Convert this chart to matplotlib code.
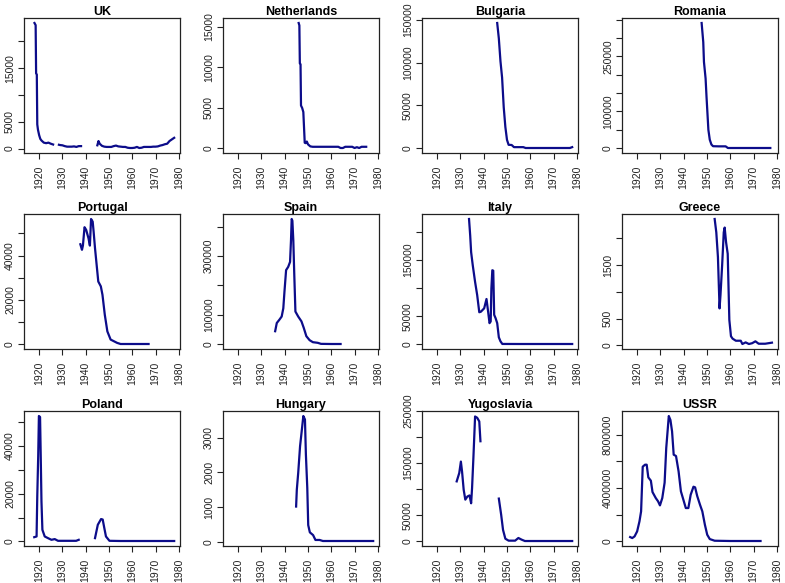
import numpy as np
import matplotlib.pyplot as plt

nan = np.nan

titles = ['UK', 'Netherlands', 'Bulgaria', 'Romania',
          'Portugal', 'Spain', 'Italy', 'Greece',
          'Poland', 'Hungary', 'Yugoslavia', 'USSR']

uk_year = [1918.0, 1918.5, 1918.7, 1919.0, 1919.2, 1919.5, 1920, 1920.5, 1921, 1922, 1923, 1924, 1925, 1926,
           1927, 1928.5, 1929, 1930, 1931, 1932, 1933, 1934, 1935, 1936, 1937, 1938,
           1941, 1945, 1945.5, 1946, 1947, 1948, 1949, 1950, 1951, 1952, 1953, 1954, 1955, 1956, 1957,
           1958, 1959, 1960, 1961, 1962, 1963, 1964, 1965, 1966, 1967, 1968, 1969, 1970, 1971, 1972,
           1973, 1974, 1975, 1976, 1977, 1978]
uk_val = [23400, 23000, 14000, 13800, 4500, 3500, 2500, 1800, 1500, 1100, 1000, 1100, 900, 750,
          nan, 700, 650, 600, 450, 350, 350, 350, 400, 300, 450, 450,
          nan, 600, 1400, 900, 500, 350, 300, 300, 300, 450, 550, 400, 350, 300, 300,
          150, 100, 100, 150, 300, 100, 150, 300, 300, 300, 300, 350, 350, 400, 550,
          650, 800, 900, 1400, 1700, 2000]

nl_year = [1946.0, 1946.3, 1946.5, 1946.8, 1947.0, 1947.5, 1948.0, 1948.3, 1948.6, 1949.0, 1949.5, 1950,
           1951, 1952, 1955, 1958, 1961, 1963, 1964, 1965, 1966, 1967, 1968, 1969, 1970, 1971,
           1972, 1973, 1974, 1975]
nl_val = [15500, 15200, 10500, 10400, 5300, 5000, 4500, 2600, 700, 650, 850, 500,
          250, 200, 200, 200, 200, 200, 50, 50, 200, 200, 200, 200, 50, 150,
          50, 200, 200, 200]

bg_year = [1945.8, 1946.5, 1947.2, 1947.9, 1948.6, 1949.3, 1950.0, 1950.7, 1952, 1953, 1955, 1957,
           1958, 1962, 1966, 1970, 1974, 1977, 1978]
bg_val = [146000, 128000, 101500, 82400, 48000, 25000, 10000, 4200, 4000, 1500, 1500, 1500,
          500, 500, 500, 500, 500, 500, 1500]

ro_year = [1947.7, 1948.4, 1948.7, 1949.4, 1949.8, 1950.2, 1950.6, 1951.2, 1951.9, 1952.6, 1955, 1958,
           1959, 1963, 1967, 1971, 1975, 1977.2]
ro_val = [341000, 289000, 235000, 190000, 140000, 95000, 50000, 23000, 10000, 5400, 5000, 5000,
          500, 500, 500, 500, 500, 500]

pt_year = [1937.7, 1938.4, 1938.8, 1939.5, 1940.2, 1941.2, 1941.8, 1942.3, 1943.0, 1943.4, 1944.0,
           1944.7, 1945.4, 1946.5, 1947.2, 1948.2, 1949.3, 1950.7, 1952.1, 1953.5, 1955, 1960, 1967]
pt_val = [45100, 42600, 44500, 52800, 51600, 47800, 44500, 56500, 55300, 50800, 43300,
          35800, 28300, 26100, 22300, 13300, 5800, 2100, 1350, 600, 100, 100, 100]

es_year = [1935.9, 1936.6, 1937.7, 1938.7, 1939.4, 1939.9, 1940.6, 1941.5, 1942.3, 1942.7, 1943.0,
           1943.3, 1943.7, 1944.1, 1944.6, 1945.8, 1947.2, 1948.2, 1949.3, 1950.7, 1952.1, 1954.2,
           1955.6, 1960, 1964]
es_val = [44000, 72000, 83000, 94000, 122000, 179000, 252000, 263000, 280000, 353000, 426000,
          420000, 353000, 240000, 111000, 94000, 77500, 55000, 27000, 13500, 6700, 4500,
          1000, 500, 500]

it_year = [1933.7, 1934.2, 1934.6, 1935.3, 1936.3, 1937.2, 1938.1, 1938.8, 1940.2, 1941.2, 1941.9,
           1942.5, 1943.0, 1943.3, 1943.7, 1944.1, 1944.5, 1945.1, 1945.8, 1946.5, 1947.2, 1948.0,
           1955, 1965, 1978]
it_val = [223000, 193500, 164000, 140600, 111000, 87600, 57000, 58000, 64000, 80600, 58000,
          37600, 40600, 99400, 131800, 131000, 52400, 46500, 37600, 12400, 5300, 600,
          500, 500, 500]

gr_year = [1953.3, 1954.0, 1954.7, 1955.4, 1955.8, 1956.5, 1957.2, 1957.6, 1958.2, 1958.9, 1959.6,
           1960.3, 1961.0, 1962.4, 1964.5, 1965.2, 1966.6, 1968.0, 1969.4, 1970.8, 1972.2, 1975.0,
           1977.9]
gr_val = [2360, 2110, 1650, 690, 940, 1490, 2110, 2200, 1925, 1710, 475,
          170, 125, 86, 86, 25, 55, 25, 40, 75, 30, 30,
          50]

pl_year = [1917.9, 1918.9, 1919.2, 1919.6, 1919.9, 1920.4, 1920.7, 1921.0, 1921.4, 1922.4, 1923.8,
           1925.3, 1926.7, 1928.1, 1932, 1935.9, 1937.0,
           1940, 1944.0, 1945.2, 1946.6, 1947.3, 1948.0, 1948.7, 1950.2, 1955, 1965, 1978]
pl_val = [1800, 2100, 19000, 35800, 52600, 52200, 35000, 16800, 4900, 2100, 1400,
          700, 1000, 280, 280, 280, 700,
          nan, 1400, 7000, 9400, 9200, 5600, 2100, 280, 200, 200, 200]

hu_year = [1944.9, 1945.2, 1945.8, 1946.6, 1947.3, 1948.0, 1948.7, 1949.1, 1949.7, 1950.1, 1950.8,
           1952.2, 1953.2, 1955.0, 1956.4, 1965, 1978]
hu_val = [1015, 1500, 1985, 2760, 3190, 3630, 3530, 2520, 1550, 480, 270,
          190, 50, 50, 20, 20, 20]

yu_year = [1928.4, 1929.5, 1930.2, 1930.7, 1931.4, 1932.1, 1933.0, 1933.9, 1934.6, 1935.0, 1935.6,
           1936.3, 1937.2, 1938.1, 1938.6,
           1942, 1946.5, 1947.5, 1948.3, 1949.3, 1950.7, 1953.5, 1954.9, 1956.3, 1957.7, 1965, 1978]
yu_val = [115000, 131000, 153000, 134000, 99000, 80000, 86000, 88000, 73000, 102000, 163000,
          239500, 237000, 230000, 192000,
          nan, 82000, 51000, 22000, 5000, 1300, 1300, 6400, 3200, 600, 600, 600]

su_year = [1917.0, 1917.9, 1918.9, 1920.0, 1921.0, 1921.7, 1922.4, 1923.4, 1924.1, 1924.8, 1925.9,
           1926.6, 1928.0, 1929.0, 1929.8, 1930.8, 1931.8, 1932.5, 1933.6, 1934.3, 1935.0, 1935.7,
           1936.7, 1937.8, 1938.8, 1939.9, 1940.9, 1942.0, 1943.0, 1944.2, 1944.9, 1945.8, 1947.0,
           1948.0, 1949.1, 1950.1, 1951.2, 1953.3, 1960, 1973]
su_val = [325000, 250000, 375000, 750000, 1.5e6, 2.25e6, 5.6e6, 5.75e6, 5.75e6, 4.8e6, 4.55e6,
          3.7e6, 3.25e6, 3.0e6, 2.7e6, 3.25e6, 4.4e6, 7.0e6, 9.4e6, 9.1e6, 8.25e6, 6.5e6,
          6.4e6, 5.25e6, 3.75e6, 3.1e6, 2.5e6, 2.5e6, 3.5e6, 4.1e6, 4.05e6, 3.4e6, 2.75e6,
          2.25e6, 1.25e6, 500000, 175000, 50000, 30000, 30000]

# y ticks per panel; blank label = dropped by R because of overlap
y_ticks = [[0, 5000, 10000, 15000, 20000],
           [0, 5000, 10000, 15000],
           [0, 50000, 100000, 150000],
           [0, 50000, 100000, 150000, 200000, 250000, 300000, 350000],
           [0, 10000, 20000, 30000, 40000, 50000],
           [0, 100000, 200000, 300000, 400000],
           [0, 50000, 100000, 150000, 200000],
           [0, 500, 1000, 1500, 2000],
           [0, 10000, 20000, 30000, 40000, 50000],
           [0, 1000, 2000, 3000],
           [0, 50000, 100000, 150000, 200000, 250000],
           [0, 2000000, 4000000, 6000000, 8000000]]
y_labels = [['0', '5000', '', '15000', ''],
            ['0', '5000', '10000', '15000'],
            ['0', '50000', '100000', '150000'],
            ['0', '', '100000', '', '', '250000', '', ''],
            ['0', '', '20000', '', '40000', ''],
            ['0', '100000', '', '300000', ''],
            ['0', '50000', '', '150000', ''],
            ['0', '500', '', '1500', ''],
            ['0', '', '20000', '', '40000', ''],
            ['0', '1000', '2000', '3000'],
            ['0', '50000', '', '150000', '', '250000'],
            ['0', '', '4000000', '', '8000000']]
x_ticks = [1920, 1930, 1940, 1950, 1960, 1970, 1980]

series = [(uk_year, uk_val), (nl_year, nl_val), (bg_year, bg_val), (ro_year, ro_val),
          (pt_year, pt_val), (es_year, es_val), (it_year, it_val), (gr_year, gr_val),
          (pl_year, pl_val), (hu_year, hu_val), (yu_year, yu_val), (su_year, su_val)]

plt.rcParams['font.family'] = ['Liberation Sans', 'DejaVu Sans']
fig = plt.figure(figsize=(7.85, 5.83), dpi=100)

W, H = 785, 583
lefts = [24, 223, 422, 622]
tops = [18, 214, 411]
aw, ah = 156, 135

for i, (yr, val) in enumerate(series):
    r, c = divmod(i, 4)
    ax = fig.add_axes([lefts[c] / W, (H - tops[r] - ah) / H, aw / W, ah / H])
    ax.plot(yr, val, color='#0c0c8a', lw=1.6)
    ax.set_xlim(1913.5, 1980.5)
    v = np.array(val, dtype=float)
    lo, hi = np.nanmin(v), np.nanmax(v)
    ax.set_ylim(lo - 0.04 * (hi - lo), hi + 0.04 * (hi - lo))
    ax.set_xticks(x_ticks)
    ax.set_xticklabels([str(t) for t in x_ticks], rotation=90)
    ax.set_yticks(y_ticks[i])
    ax.set_yticklabels(y_labels[i], rotation=90, va='center')
    ax.tick_params(direction='out', length=4, width=0.8, labelsize=7.5,
                   colors='#222222', pad=2.5)
    ax.tick_params(axis='x', pad=5)
    ax.set_title(titles[i], fontsize=9, fontweight='bold', pad=2.5)
    for s in ax.spines.values():
        s.set_linewidth(0.9)
        s.set_color('#222222')

fig.savefig('out.png', dpi=100)
